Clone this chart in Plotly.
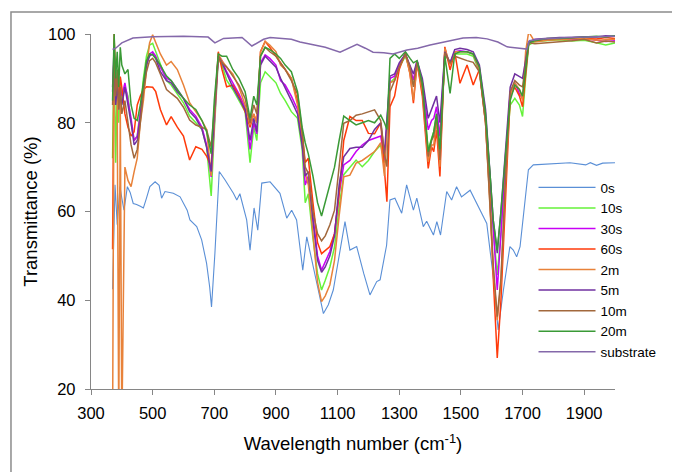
import plotly.graph_objects as go

# ---- data ----
wn_upper = [370, 375, 380, 385, 390, 395, 400, 410, 420, 430,
            440, 450, 460, 470, 480, 490, 500, 510, 525, 545,
            560, 580, 600, 620, 640, 660, 675, 690, 700, 713,
            725, 740, 760, 780, 800, 816, 828, 838, 850, 865,
            880, 900, 915, 930, 950, 970, 985, 995, 1005, 1020,
            1035, 1048, 1060, 1075, 1090, 1105, 1120, 1140, 1160, 1180,
            1200, 1220, 1240, 1252, 1260, 1270, 1285, 1300, 1320, 1335,
            1346, 1358, 1375, 1394, 1405, 1412, 1421, 1432, 1448, 1465,
            1480, 1497, 1520, 1540, 1560, 1580, 1595, 1605, 1618, 1630,
            1645, 1660, 1675, 1690, 1700, 1710, 1720, 1740, 1780, 1820,
            1860, 1900, 1940, 1970, 2000]

t_10s = [72, 98, 71, 88, 80, 90, 85, 88, 86, 80,
         76, 77, 83, 90, 95, 97.5, 97.9, 96, 93, 89.5,
         88.5, 86.5, 84.5, 81.5, 80, 78.5, 74.5, 63.5, 78, 94.5,
         93, 89.6, 87.5, 85, 82.5, 71, 79, 76, 89, 91.5,
         90.5, 89, 86.6, 85, 82.5, 81, 74, 62, 64, 54,
         46, 42.3, 44.5, 47.5, 52, 61, 68.3, 70, 71.6, 70.1,
         71.5, 73.5, 75, 71, 79, 89, 90, 92.5, 95, 92,
         88.5, 93.5, 88, 73.9, 76.5, 78, 82, 73.1, 95.5, 93.4,
         95.5, 95.5, 95.5, 95, 91.5, 81, 68, 56, 45.7, 55,
         71, 84, 85.5, 84, 81.4, 90, 97.5, 98.3, 98.5, 98.7,
         98.4, 98.6, 98, 97.5, 98]

t_30s = [87, 95, 86, 90, 83, 88, 86, 89, 85, 81,
         76, 77, 82, 88.5, 93.5, 95.5, 96, 95, 92.5, 90,
         89.5, 87.5, 85.5, 83, 81.5, 79, 75, 67.8, 81, 95,
         94, 91.5, 89, 86.5, 83.5, 74, 80, 77.5, 93.5, 95.3,
         94.5, 93, 89.5, 88.5, 86, 83, 76, 66, 68, 58.5,
         50, 46.8, 48.5, 51, 55, 64, 70.5, 71.5, 73.5, 75,
         76, 76.5, 77, 71.5, 79, 90, 90.5, 93, 95.5, 92.5,
         89.6, 94, 89, 78.4, 80.5, 81, 83.6, 76.9, 95.8, 93.5,
         96, 96.2, 96, 95.5, 92, 81, 67, 55, 42.3, 55,
         72, 87, 89, 86.5, 85.5, 92, 98, 98.5, 98.8, 99,
         98.7, 99, 98.6, 98.3, 98.5]

t_60s = [51.5, 100, 86, 90, 84, 90.4, 88, 82, 79, 77,
         78, 84, 86, 87.5, 88.1, 88, 88, 87, 83, 79.5,
         81.4, 79, 77, 71.6, 74.6, 74, 72.5, 70.1, 82, 96,
         92, 88.1, 88.5, 86, 82.5, 79, 82, 80, 96, 98.3,
         97, 95, 93.5, 92, 90, 85, 78, 71, 72, 62,
         53, 50.5, 51.3, 52.1, 55, 64, 76, 81.4, 80.5, 80.5,
         77.6, 77.5, 80, 70, 62.2, 83.6, 86, 92, 95.8, 91,
         84.4, 93.5, 86, 69.7, 74.6, 73.5, 78.4, 67.9, 97.1, 91.9,
         96, 88.9, 93, 88.5, 92, 80, 62, 45, 27, 40,
         65, 86, 88, 86, 83.6, 91, 98, 98.5, 98.8, 99,
         99.1, 99, 98.9, 99.2, 99]

t_2m = [10, 99, 90, 85, 10, 85, 10, 70, 67, 65.6,
        69, 72, 80, 85, 91.9, 98, 99.8, 98, 95.5, 93,
        93.8, 92, 88.5, 84.5, 82.5, 80.5, 78.5, 68, 80, 95.5,
        94, 92.5, 91, 88, 84, 79.5, 82, 80, 96, 98.3,
        97.5, 96, 93, 92, 90, 84, 77, 68.6, 66, 55,
        44, 39.7, 41, 43.5, 49, 59, 67.8, 68.2, 70.9, 71.5,
        72.4, 73.5, 75.5, 68, 78, 89, 89.5, 92.5, 95.5, 91,
        85.1, 93.5, 87, 71.2, 75, 75, 80.6, 70.1, 96.8, 93,
        96, 96, 96, 95.5, 92, 80, 60, 47, 35.5, 44,
        67, 86, 89, 87.5, 85, 96, 100.5, 98.2, 98.6, 98.8,
        98.9, 99, 98.6, 98.7, 98.8]

t_5m = [88, 97, 84, 88, 85, 86, 84, 88, 84, 80,
        75, 76, 81, 88, 93, 95, 95.5, 94.5, 91.5, 89.5,
        89, 87, 85.5, 82.5, 81, 78.5, 74.5, 69, 82, 95,
        93.5, 91, 88, 85.5, 83, 76, 81, 78, 93, 95,
        94, 92.5, 90, 88, 85, 82, 75, 68, 69, 58,
        49, 46.3, 47.5, 50, 54.5, 66, 72.3, 74.2, 74.5, 74.5,
        76, 78.5, 80, 73, 80, 90.5, 91, 93.5, 95.5, 93,
        91, 94, 90, 81, 83, 84, 86, 80, 96, 93.5,
        96.5, 96.8, 96.5, 96, 93, 83, 69, 58, 50.6, 60,
        74, 88, 91, 90.5, 90, 94, 98.2, 98.8, 99, 99.2,
        99.2, 99.4, 99.3, 99.6, 99.5]

t_10m = [84, 96, 86, 92, 83, 88, 82, 85, 80, 75,
         72, 74, 80, 87, 91.5, 94, 94.5, 93.5, 91, 87.5,
         86.6, 85.5, 83.5, 80.6, 79.5, 79, 78.4, 74.5, 83, 95,
         93.5, 92.6, 90.5, 88.5, 85.5, 80, 84, 82, 95, 97,
         96, 95, 93.4, 92, 89.5, 86.5, 78, 70, 68.6, 60,
         55, 53.4, 54.5, 57, 60.3, 69.5, 79.9, 80.5, 81.7, 82,
         82.5, 82.9, 80.5, 73, 70.1, 87, 89.5, 92.5, 95.5, 92.5,
         88.1, 93.8, 88, 72.4, 76, 77, 81.4, 71.6, 95.8, 93.4,
         95, 94.5, 94, 93.6, 91.5, 80, 62, 48, 36.3, 45,
         68, 87, 89.5, 88.5, 88.1, 93, 98, 97.8, 98, 98.3,
         98.5, 98.8, 98, 98.4, 98.2]

t_20m = [85, 100, 90, 96, 88, 97, 93, 91, 92, 84,
         81, 80.5, 84, 89.5, 94, 95.5, 95.3, 94.5, 93, 90.5,
         89.5, 87.5, 85.5, 84, 83, 80.5, 78, 73, 85, 95.5,
         95, 95, 92, 90, 87, 81, 86, 84, 95, 97,
         96.5, 95.5, 94.5, 93, 91.5, 87, 79, 75.5, 73, 68,
         62, 59, 62, 66.3, 70, 76, 81.5, 80.5, 79.5, 80,
         80.5, 80, 81.7, 80, 78.5, 94.5, 95.5, 94.5, 96, 94.5,
         93.5, 94, 89, 73.5, 76, 78, 82, 74, 95, 86.6,
         95.5, 96, 96, 95.5, 92.5, 82, 68, 58, 51.3, 60,
         73, 85, 88.5, 87.5, 86, 92, 98, 98.5, 99, 99,
         99.2, 99.3, 99.5, 99.3, 99.6]

wn_0s = [370, 373, 378, 385, 394, 400, 407, 418, 427, 437,
         448, 460, 470, 480, 491, 508, 521, 529, 540, 567,
         589, 612, 621, 643, 659, 675, 685, 691, 702, 716,
         735, 762, 773, 783, 805, 816, 829, 841, 854, 881,
         913, 935, 951, 967, 987, 1000, 1021, 1040, 1054, 1070,
         1086, 1105, 1124, 1140, 1162, 1185, 1205, 1227, 1238, 1259,
         1270, 1286, 1308, 1324, 1346, 1357, 1378, 1389, 1411, 1422,
         1434, 1454, 1470, 1486, 1502, 1530, 1551, 1584, 1605, 1621,
         1638, 1659, 1670, 1681, 1692, 1705, 1719, 1735, 1800, 1854,
         1905, 1920, 1940, 1960, 2000]
t_0s = [42.5, 55, 66, 57, 65.6, 63, 60.3, 65.6, 64.3, 61.8,
        61.6, 61.2, 60.8, 63, 65.6, 66.7, 65.9, 63.0, 64.5, 64.1,
        63.3, 60.3, 58.1, 56.6, 53.6, 48.3, 43, 38.5, 50.6, 69.0,
        67.1, 64.1, 62.6, 64, 58.1, 51.3, 60.8, 55.8, 66.4, 66.7,
        64.1, 58.5, 60.3, 58.1, 46.8, 54.3, 47.6, 41, 37.0, 39,
        42.3, 50, 57.7, 51.3, 52.1, 46, 41.2, 44.2, 44.6, 52.4,
        62.6, 63.0, 59.6, 66.0, 60.3, 63.0, 56.6, 57.8, 54.7, 57.7,
        54.7, 64.5, 62.6, 65.6, 63.3, 64.8, 61.8, 57.3, 45.3, 33.3,
        42.3, 52.1, 51.3, 49.8, 52.1, 60, 69.4, 70.5, 70.8, 71.0,
        70.5, 71, 70.4, 70.9, 71.0]

wn_sub = [370, 380, 400, 436, 500, 600, 680, 702, 730, 790,
          822, 860, 881, 913, 950, 978, 1020, 1060, 1108, 1135,
          1163, 1190, 1215, 1250, 1280, 1325, 1360, 1400, 1450, 1507,
          1550, 1585, 1620, 1650, 1690, 1714, 1722, 1760, 1850, 1950,
          2000]
t_sub = [96.5, 96.8, 98, 99.1, 99.4, 99.5, 99.3, 98, 99, 99.2,
         97.3, 98.8, 99.2, 99.0, 98.8, 98.2, 97.5, 97, 95.9, 96.8,
         97.7, 96.8, 95.9, 95.8, 95.5, 96.4, 96.8, 97.5, 98.3, 99.1,
         99.2, 98.9, 98.2, 97.1, 96.8, 96.6, 98.5, 98.9, 99.2, 99.3,
         99.5]

series_names = ["0s", "10s", "30s", "60s", "2m", "5m", "10m", "20m", "substrate"]
x_ticks = [300, 500, 700, 900, 1100, 1300, 1500, 1700, 1900]
y_ticks = [20, 40, 60, 80, 100]

series = [
    (series_names[0], wn_0s, t_0s, "#5A8FD6", 1.1),
    (series_names[1], wn_upper, t_10s, "#66F23A", 1.5),
    (series_names[2], wn_upper, t_30s, "#C800F5", 1.5),
    (series_names[3], wn_upper, t_60s, "#FF3A0A", 1.5),
    (series_names[4], wn_upper, t_2m, "#E8823A", 1.5),
    (series_names[5], wn_upper, t_5m, "#7030A0", 1.5),
    (series_names[6], wn_upper, t_10m, "#A2683C", 1.5),
    (series_names[7], wn_upper, t_20m, "#3A9A36", 1.5),
    (series_names[8], wn_sub, t_sub, "#8468AA", 1.5),
]

fig = go.Figure()
for name, xs, ys, col, w in series:
    fig.add_trace(go.Scatter(x=xs, y=ys, name=name, mode="lines",
                             line=dict(color=col, width=w)))

axis_col = "#868686"
fig.update_layout(
    width=680, height=472,
    margin=dict(l=83, r=73, t=26, b=91),
    paper_bgcolor="white", plot_bgcolor="white",
    font=dict(family="Liberation Sans, Arial, sans-serif", size=16, color="#000000"),
    showlegend=True,
    legend=dict(x=0.8445, y=0.611, xanchor="left", yanchor="top",
                bgcolor="rgba(0,0,0,0)", font=dict(size=13.5),
                itemwidth=57, tracegroupgap=0),
    xaxis=dict(range=[300, 2000], tickmode="array", tickvals=x_ticks,
               showgrid=False, zeroline=False, showline=True, linecolor=axis_col,
               linewidth=1.3, ticks="outside", ticklen=5, tickcolor=axis_col,
               tickfont=dict(size=16.5), ticklabelstandoff=4,
               title=dict(text="Wavelength number (cm<sup>-1</sup>)",
                          font=dict(size=18.5), standoff=16)),
    yaxis=dict(range=[20, 100], tickmode="array", tickvals=y_ticks,
               showgrid=False, zeroline=False, showline=True, linecolor=axis_col,
               linewidth=1.3, ticks="outside", ticklen=5, tickcolor=axis_col,
               tickfont=dict(size=16.5), ticklabelstandoff=6,
               title=dict(text="Transmittance (%)", font=dict(size=18.5), standoff=5)),
    shapes=[dict(type="rect", xref="paper", yref="paper",
                 x0=-0.1527, x1=1.3, y0=-0.4, y1=1.062,
                 line=dict(color="#8C8C8C", width=1.5), fillcolor="rgba(0,0,0,0)",
                 layer="below")],
)

fig.write_html("out.html")
